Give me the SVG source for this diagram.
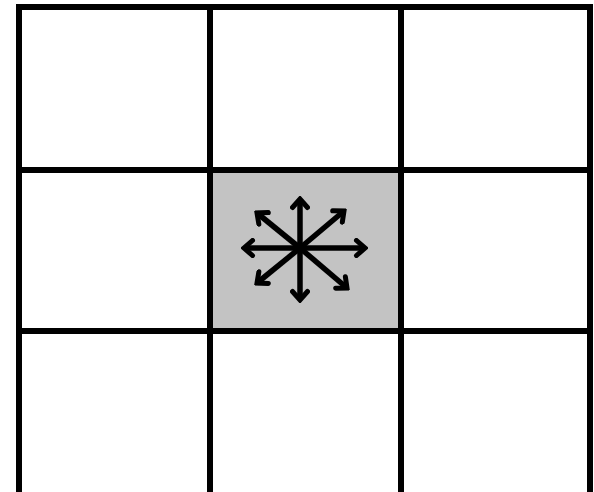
<svg xmlns="http://www.w3.org/2000/svg" width="594" height="492" viewBox="0 0 594 492">
<defs>
<style>
.grid{stroke:#000;stroke-width:6;fill:none;stroke-linecap:square}
.arr{stroke:#000;stroke-width:5.5;fill:none;marker-end:url(#head)}
</style>
<marker id="head" markerUnits="userSpaceOnUse" viewBox="-13 -10 16 20" markerWidth="16" markerHeight="20" refX="0" refY="0" orient="auto">
<polyline points="-8.5,-7.5 0,0 -8.5,7.5" fill="none" stroke="#000" stroke-width="5" stroke-linecap="round" stroke-linejoin="miter"/>
</marker>
</defs>
<rect width="594" height="492" fill="#fff"/>
<g id="center-cell">
<rect x="210" y="170" width="191" height="161" fill="#c3c3c3"/>
</g>
<g id="grid">
<rect class="grid" x="19" y="7" width="571" height="488"/>
<line class="grid" x1="210" y1="7" x2="210" y2="495"/>
<line class="grid" x1="401" y1="7" x2="401" y2="495"/>
<line class="grid" x1="19" y1="170" x2="590" y2="170"/>
<line class="grid" x1="19" y1="331" x2="590" y2="331"/>
</g>
<g id="connectors">
<line class="arr" x1="300" y1="248" x2="300" y2="199"/>
<line class="arr" x1="300" y1="248" x2="300" y2="300"/>
<line class="arr" x1="300" y1="248" x2="244" y2="248"/>
<line class="arr" x1="300" y1="248" x2="365" y2="248"/>
<line class="arr" x1="300" y1="248" x2="344" y2="211"/>
<line class="arr" x1="300" y1="248" x2="257" y2="213"/>
<line class="arr" x1="300" y1="248" x2="257" y2="283"/>
<line class="arr" x1="300" y1="248" x2="347" y2="288"/>
</g>
</svg>
